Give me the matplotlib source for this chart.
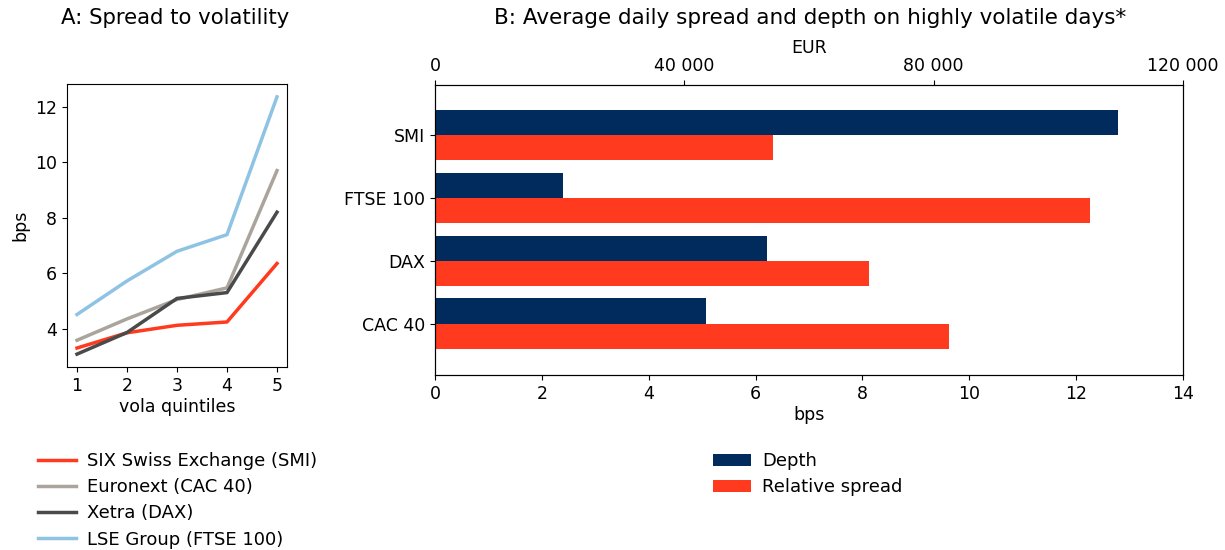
import matplotlib
matplotlib.use("Agg")
import matplotlib.pyplot as plt
import numpy as np
from matplotlib.ticker import FuncFormatter

# Panel A data
quintiles = [1, 2, 3, 4, 5]
smi_spread = [3.30, 3.85, 4.12, 4.24, 6.35]
cac_spread = [3.58, 4.35, 5.05, 5.47, 9.70]
dax_spread = [3.08, 3.86, 5.09, 5.30, 8.20]
ftse_spread = [4.51, 5.72, 6.79, 7.39, 12.36]
series_labels = ["SIX Swiss Exchange (SMI)", "Euronext (CAC 40)", "Xetra (DAX)", "LSE Group (FTSE 100)"]

# Panel B data
indices = ["CAC 40", "DAX", "FTSE 100", "SMI"]
depth_eur = [43500, 53300, 20500, 109600]
rel_spread_bps = [9.62, 8.12, 12.26, 6.33]

c_red = "#FF3A1E"
c_gray = "#AAA49C"
c_dark = "#4A4A4A"
c_blue = "#8EC3E4"
c_navy = "#002B5C"

plt.rcParams["font.family"] = "DejaVu Sans"
plt.rcParams["font.size"] = 12

W, H = 1225, 550
fig = plt.figure(figsize=(W / 100, H / 100), dpi=100)

def rect(l, t, r, b):
    return [l / W, 1 - b / H, (r - l) / W, (b - t) / H]

# Panel A
axA = fig.add_axes(rect(67, 84, 287, 367))
lw = 2.5
lA = []
for vals, col, lab in zip([smi_spread, cac_spread, dax_spread, ftse_spread],
                          [c_red, c_gray, c_dark, c_blue], series_labels):
    ln, = axA.plot(quintiles, vals, color=col, lw=lw, label=lab)
    lA.append(ln)
axA.set_xticks(quintiles)
axA.set_yticks([4, 6, 8, 10, 12])
axA.set_xlabel("vola quintiles", fontsize=12.5, labelpad=2)
axA.set_ylabel("bps", fontsize=12.5)
axA.tick_params(labelsize=12.5)
fig.text(175 / W, 1 - 18 / H, "A: Spread to volatility", ha="center", va="center", fontsize=15.3)
fig.legend(handles=lA, loc="upper left", bbox_to_anchor=(22 / W, 1 - 436 / H),
           frameon=False, fontsize=13, handlelength=2.1, handletextpad=0.6,
           labelspacing=0.45)

# Panel B
axB = fig.add_axes(rect(435, 85, 1183, 375))
y = np.arange(len(indices))
h = 0.4
sp = axB.barh(y - h / 2, rel_spread_bps, height=h, color=c_red, label="Relative spread")
axB.set_xlim(0, 14)
axB.set_xticks(range(0, 15, 2))
axB.set_yticks(y)
axB.set_yticklabels(indices)
axB.set_ylim(-0.82, 3.8)
axB.set_xlabel("bps", fontsize=12.5, labelpad=2)
axB.tick_params(labelsize=12.5)

axT = axB.twiny()
dp = axT.barh(y + h / 2, depth_eur, height=h, color=c_navy, label="Depth")
axT.set_xlim(0, 120000)
axT.set_xticks([0, 40000, 80000, 120000])
axT.xaxis.set_major_formatter(FuncFormatter(lambda v, p: f"{int(v):,}".replace(",", " ")))
axT.set_xlabel("EUR", fontsize=12.5, labelpad=3)
axT.tick_params(labelsize=12.5)
fig.text(810 / W, 1 - 18 / H, "B: Average daily spread and depth on highly volatile days*",
         ha="center", va="center", fontsize=15.5)
fig.legend(handles=[dp, sp], loc="upper left", bbox_to_anchor=(697 / W, 1 - 436 / H),
           frameon=False, fontsize=13, handlelength=2.1, handletextpad=0.6,
           labelspacing=0.45)

fig.savefig("out.png", dpi=100)
